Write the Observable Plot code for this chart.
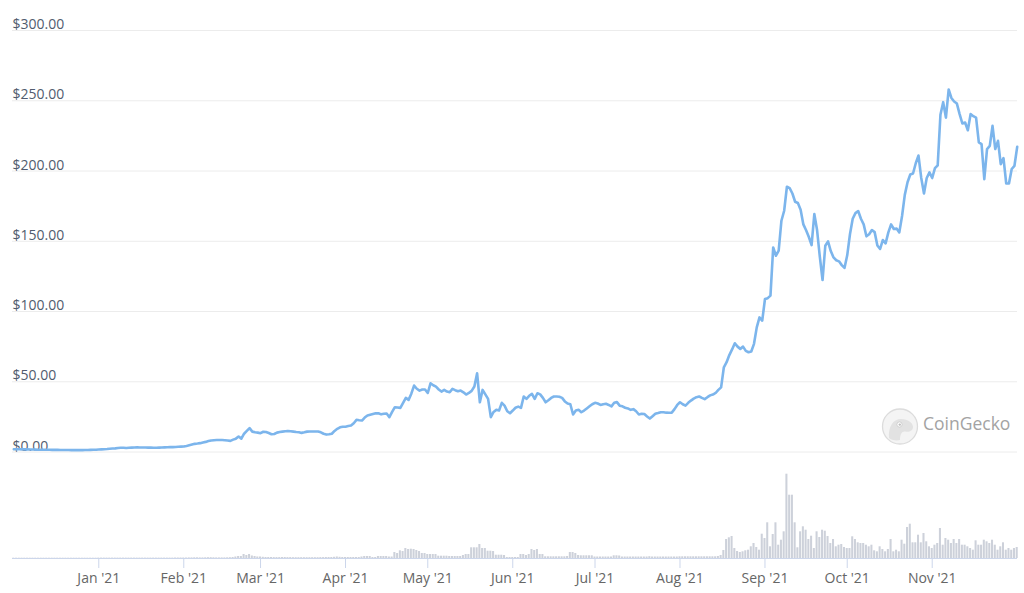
<!DOCTYPE html>
<html><head><meta charset="utf-8">
<script src="https://cdn.jsdelivr.net/npm/d3@7"></script>
<script src="https://cdn.jsdelivr.net/npm/@observablehq/plot@0.6"></script>
<style>
html,body{margin:0;padding:0;background:#fff;}
#chart{position:relative;width:1024px;height:593px;overflow:hidden;font-family:"Open Sans",sans-serif;background:#fff;}
#chart > svg{display:block;}
#wm{position:absolute;left:880px;top:407px;}
</style></head><body>
<div id="chart"></div>
<script>
// ---- data (daily, starting at firstDay) ----
const firstDay = "2020-12-01";
const lastDay = "2021-12-02";
const priceValues = [
  // Dec 2020
  1.95,2.0,1.95,1.9,1.9,1.85,1.8,1.75,1.7,1.65,1.65,1.6,1.6,1.55,1.5,1.5,1.5,1.45,1.45,1.4,1.4,1.35,1.3,1.3,1.3,1.35,1.4,1.45,1.5,1.55,1.6,
  // Jan 2021
  1.8,1.9,2.0,2.1,2.3,2.5,2.6,2.8,3.0,3.0,2.9,3.0,3.1,3.2,3.3,3.2,3.2,3.2,3.1,3.1,3.0,3.0,3.1,3.2,3.3,3.4,3.5,3.5,3.6,3.7,3.8,
  // Feb
  3.9,4.3,4.8,5.3,5.8,6.0,6.3,6.8,7.2,7.8,8.2,8.4,8.5,8.5,8.5,8.4,8.2,7.9,8.8,9.5,11.0,9.5,13.0,15.0,17.0,14.5,14.0,13.8,
  // Mar
  13.4,14.4,14.2,13.5,12.6,12.8,13.8,14.2,14.5,14.8,15.0,14.8,14.5,14.2,14.1,13.6,14.0,14.5,14.6,14.6,14.6,14.6,14.0,13.0,12.4,12.6,13.0,15.0,16.5,17.6,18.0,
  // Apr
  18.0,18.5,18.8,20.5,22.9,22.6,22.4,24.5,26.0,26.5,27.0,27.5,27.6,26.8,27.2,27.4,24.8,28.5,31.9,31.7,31.4,35.0,38.5,37.1,41.5,47.3,45.0,43.7,44.5,44.5,
  // May
  42.0,48.9,47.5,46.5,44.5,43.0,44.2,43.0,42.5,44.9,44.0,43.2,43.7,42.5,40.9,42.0,43.5,46.6,56.0,35.4,44.2,41.0,37.8,24.8,28.5,30.0,29.5,35.0,33.0,29.0,27.6,
  // Jun
  29.5,31.5,32.3,31.4,39.5,37.8,40.0,41.4,37.8,41.8,41.0,38.5,35.4,36.8,38.5,39.5,39.5,39.3,38.5,36.0,34.5,34.0,26.7,29.5,30.0,28.3,29.5,31.0,32.5,34.0,
  // Jul
  35.0,34.5,33.5,34.0,34.3,33.5,32.5,35.0,35.5,33.0,32.5,31.5,31.0,30.0,30.5,29.0,26.7,27.2,27.0,25.3,23.8,25.5,27.2,27.7,28.3,28.3,28.0,27.9,28.0,30.5,33.5,
  // Aug
  35.4,34.0,33.0,35.0,36.6,38.0,39.0,39.5,38.5,37.6,39.0,40.3,40.9,42.0,44.2,46.0,60.3,63.9,69.0,73.0,77.4,75.0,73.4,75.0,72.0,71.0,71.5,77.0,88.7,95.8,93.5,
  // Sep
  108.9,109.5,111.3,145.6,139.7,143.3,164.6,171.7,188.8,187.8,184.0,178.1,177.2,172.5,162.0,157.8,153.0,147.3,169.4,158.0,139.0,122.4,146.8,149.9,143.0,138.5,136.5,135.7,133.0,131.0,
  // Oct
  140.0,155.0,166.0,170.0,171.5,166.0,162.0,153.5,155.0,158.0,156.5,147.0,144.5,150.9,148.5,156.3,162.0,158.7,159.0,156.3,168.0,183.0,192.0,197.5,198.2,205.5,211.0,195.0,184.0,195.0,199.0,
  // Nov
  195,202,204,240,249,238,258,252,249.5,248,240.5,233.8,234.5,229,240.5,239,238,220.3,219.1,194.2,215.6,217.9,232.1,215.6,221.5,204.9,209.2,191.1,191.1,201.4,
  // Dec
  203.7,217.2
];
// trading volume (relative units, no axis in the original)
const volumeValues = [
  // Dec 2020
  0.3,0.3,0.3,0.3,0.3,0.3,0.3,0.3,0.3,0.3,0.3,0.3,0.3,0.3,0.3,0.3,0.3,0.3,0.3,0.3,0.3,0.3,0.3,0.3,0.3,0.3,0.3,0.3,0.3,0.3,0.3,
  // Jan
  0.4,0.4,0.4,0.4,0.4,0.4,0.4,0.4,0.4,0.4,0.4,0.4,0.4,0.4,0.4,0.4,0.4,0.4,0.4,0.4,0.4,0.4,0.4,0.4,0.4,0.4,0.4,0.4,0.5,0.5,0.5,
  // Feb
  0.5,0.5,0.6,0.6,0.7,0.7,0.6,0.6,0.7,0.8,0.8,0.7,0.6,0.6,0.6,0.6,0.7,0.8,1,1.5,2,2,4,3,4,2.5,2,1.5,
  // Mar
  1.5,1.2,1,1,1,0.9,0.9,0.9,1,1,0.9,0.9,0.8,0.8,0.8,0.8,0.8,0.8,0.8,0.8,0.8,0.8,0.9,0.9,1,1,1,1.2,1.5,1.2,1,
  // Apr
  1,1,1,1,1,1,1.5,2,2,2,1,1,2,2,2,2,1.5,1.5,6,5,7.7,7,10,9,9.3,9,8,7,5,5,
  // May
  4,4,4,4,2.3,2.3,2.3,2.3,2,2,2,2,2,3,4,4,10.7,10.7,10.7,14,10,10,7.3,7.3,7,3.3,3.3,3.3,3,1,1,
  // Jun
  1,1,1,4,4,3,4,9,8,9,4,4,1.7,1.7,1.7,1.7,1.7,1.7,1.7,1.7,2,6,6,5,3,2.7,2.7,2.7,2.7,2.7,
  // Jul
  1.5,1.5,1.5,1.5,1.5,1.5,1.5,2.7,2.7,2.5,1.5,1.5,1.5,1.5,1.5,1.5,1.5,1.5,1.5,1.5,1.8,1.5,1.5,1.5,1.5,1.5,1.5,1.5,1.5,1.5,1.5,
  // Aug
  1.7,1.7,1.7,1.7,1.7,1.7,1.7,1.7,1.7,1.7,1.7,1.7,1.7,1.7,2,3,8,19,20.7,22,10,7,6,6.7,7.7,8.3,11.7,15,11,8.3,24.3,
  // Sep
  20,35.7,11.7,24,35.7,13.3,18.3,26.7,84.3,63.3,63.3,35.7,10.7,26.7,31.7,28.3,19,22.3,10,26.7,21,28.3,27.3,22,15,19,11.7,13.3,14,11,
  // Oct
  10,10,21.7,19,15.7,15,15,13.3,11.7,13.3,7.7,6.7,11.7,9,6.7,9,19,6.7,8.3,6.7,18.3,14.3,31,34.3,15.7,15.7,23.3,15.7,25,16.7,11.7,
  // Nov
  10,13.3,15,30,13.3,20,18.3,15,19,15,19,13.3,13.3,11.7,10,8.3,17.7,13.3,13.3,18.3,16.7,15,18.3,13.3,8.3,11.7,15.7,8.3,10,8.3,
  // Dec
  10,11
];
const priceTicks = [0, 50, 100, 150, 200, 250, 300];
const monthTicks = ["2021-01-01","2021-02-01","2021-03-01","2021-04-01","2021-05-01","2021-06-01",
                    "2021-07-01","2021-08-01","2021-09-01","2021-10-01","2021-11-01"];

// ---- tables built from the arrays ----
const startDate = new Date(firstDay);
const priceData = priceValues.map((v, i) => ({date: d3.utcDay.offset(startDate, i), price: v}));
const volumeData = volumeValues.map((v, i) => ({date: d3.utcDay.offset(startDate, i), vol: v}));
const months = monthTicks.map(s => new Date(s));
const xDomain = [startDate, new Date(lastDay)];
const xRange = [13.3, 1016.7];
const fmtPrice = d3.format(",.2f");
const plotStyle = {fontFamily: "'Open Sans', sans-serif", background: "white", overflow: "visible"};

const priceChart = Plot.plot({
  width: 1024, height: 456,
  marginLeft: 12, marginRight: 7, marginTop: 30, marginBottom: 4.5,
  style: plotStyle,
  x: {type: "utc", domain: xDomain, range: xRange, axis: null},
  y: {domain: [0, 300], range: [451.5, 30], axis: null},
  marks: [
    Plot.ruleY(priceTicks, {stroke: "#ececec", strokeWidth: 1}),
    Plot.text(priceTicks, {y: d => d, text: d => "$" + fmtPrice(d), frameAnchor: "left",
      textAnchor: "start", lineAnchor: "bottom", dy: -1.5, fill: "#515c6e", fontSize: 14}),
    Plot.line(priceData, {x: "date", y: "price", stroke: "#7cb5ec", strokeWidth: 2.6,
      strokeLinejoin: "round", strokeLinecap: "round"})
  ]
});

const volumeChart = Plot.plot({
  width: 1024, height: 137,
  marginLeft: 12, marginRight: 7, marginTop: 10, marginBottom: 35,
  style: plotStyle,
  x: {type: "utc", domain: xDomain, range: xRange},
  y: {domain: [0, 84], range: [102, 18], axis: null},
  marks: [
    Plot.rectY(volumeData, {x: "date", interval: "day", y: "vol", fill: "#cdd1da",
      insetLeft: 0.35, insetRight: 0.35, dx: -1.37}),
    Plot.ruleY([0], {stroke: "#ccd6eb", strokeWidth: 1}),
    Plot.axisX(months, {tickSize: 10, tickPadding: 5, tickFormat: d3.utcFormat("%b '%y"),
      stroke: "#ccd6eb", fill: "#666666", fontSize: 14, label: null})
  ]
});

const chart = document.getElementById("chart");
chart.appendChild(priceChart);
chart.appendChild(volumeChart);

// CoinGecko watermark
const wm = document.createElement("div");
wm.id = "wm";
wm.innerHTML = `<svg width="144" height="40" xmlns="http://www.w3.org/2000/svg">
  <circle cx="20" cy="19.5" r="17.5" fill="#f4f4f4" stroke="#dcdcdc" stroke-width="1.3"/>
  <path d="M9 31 C8 20 13 12 21 12 C28 12 33 16 33 20 C33 24 29 25.5 25 24.5 C22 24 20 27 20 33 C16 34 11 33 9 31 Z" fill="#e2e2e2"/>
  <circle cx="19.5" cy="17.5" r="2.6" fill="#ffffff" stroke="#c9c9c9" stroke-width="0.8"/>
  <circle cx="19.8" cy="17.6" r="1.2" fill="#bdbdbd"/>
  <text x="43" y="22.5" font-family="'Open Sans', sans-serif" font-size="17.5" fill="#a3a3a3">CoinGecko</text>
</svg>`;
chart.appendChild(wm);
</script></body></html>
